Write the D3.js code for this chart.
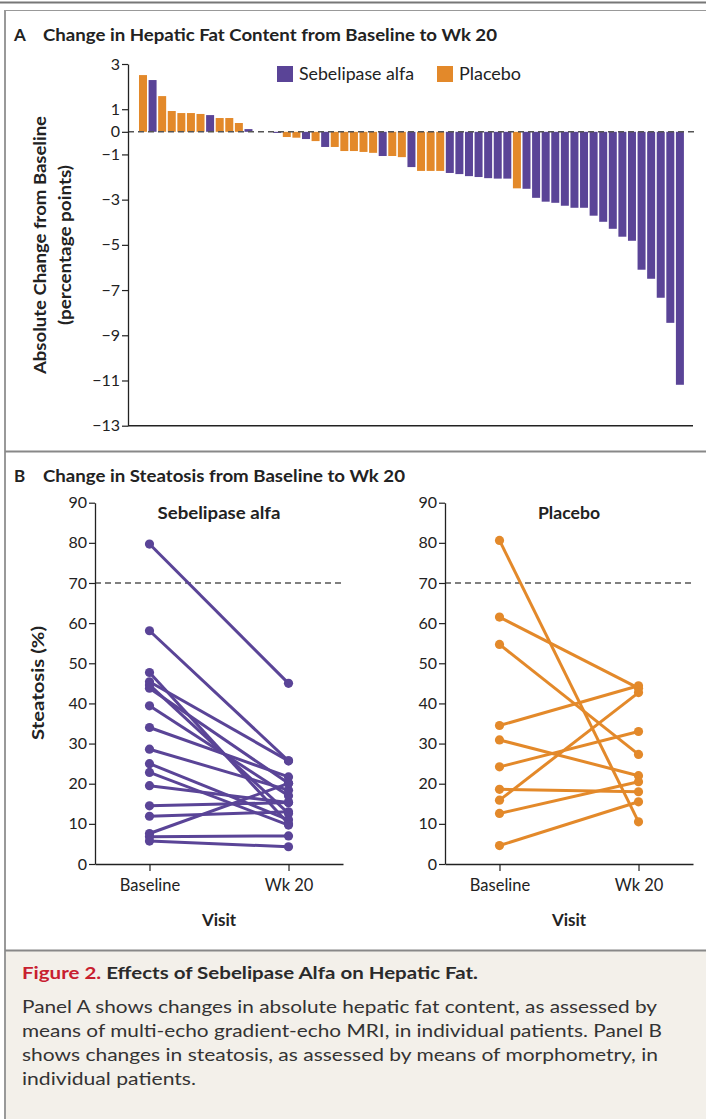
<!DOCTYPE html>
<html><head><meta charset="utf-8">
<script src="https://cdnjs.cloudflare.com/ajax/libs/d3/7.8.5/d3.min.js"></script>
<style>
body{margin:0;background:#fff;}
svg text{font-family:Lato,"Open Sans",sans-serif;fill:#222;}
</style></head>
<body>
<svg id="chart" width="706" height="1119"></svg>
<script>
// ---------- DATA ----------
// Panel A: absolute change in hepatic fat content (percentage points), per patient, sorted
const hfcValues = [2.51,2.29,1.58,0.92,0.83,0.83,0.79,0.74,0.61,0.61,0.39,0.12,0,0,-0.05,
  -0.23,-0.26,-0.32,-0.41,-0.67,-0.67,-0.85,-0.85,-0.89,-0.93,-1.07,-1.07,-1.12,-1.56,-1.73,-1.73,-1.73,
  -1.82,-1.87,-1.96,-2.00,-2.05,-2.07,-2.07,-2.50,-2.52,-2.92,-3.09,-3.14,-3.27,-3.36,-3.36,-3.71,-3.98,
  -4.29,-4.64,-4.82,-6.10,-6.50,-7.34,-8.45,-11.19];
const hfcGroups = ["P","S","P","P","P","P","P","S","P","P","P","S","P","S","S",
  "P","P","S","P","S","P","P","P","P","P","S","P","P","S","P","P","P",
  "S","S","S","S","S","S","S","P","S","S","S","S","S","S","S","S","S",
  "S","S","S","S","S","S","S","S"];
const aTicks = [3,1,0,-1,-3,-5,-7,-9,-11,-13];
const legendLabels = ["Sebelipase alfa","Placebo"];

// Panel B: steatosis (%) at baseline and week 20
const visits = ["Baseline","Wk 20"];
const sebBaseline = [79.7,58.1,47.7,45.4,44.6,43.8,39.4,34.0,28.6,25.0,22.8,19.5,14.5,11.9,7.6,6.8,5.7];
const sebWk20     = [45.0,25.7,10.0,25.7,12.6,20.1,17.0,21.7,18.4,11.0,9.7,15.3,15.3,13.0,20.1,7.0,4.3];
const plaBaseline = [80.6,61.5,54.7,34.5,30.9,24.2,18.6,15.9,12.6,4.6];
const plaWk20     = [10.5,43.8,27.3,44.4,22.0,33.0,18.0,42.7,20.5,15.5];
const bTicks = [0,10,20,30,40,50,60,70,80,90];
const thresholdB = 70;

// ---------- STYLE ----------
const PURPLE = "#5a4497", ORANGE = "#e3892a";
const colorOf = g => g === "S" ? PURPLE : ORANGE;
const minus = d => d < 0 ? "\u2212" + Math.abs(d) : String(d);

const svg = d3.select("#chart");

// ---------- FRAME ----------
svg.append("rect").attr("x",5).attr("y",951).attr("width",701).attr("height",168).attr("fill","#f3f0ea");
svg.append("line").attr("x1",0).attr("x2",706).attr("y1",2.5).attr("y2",2.5).attr("stroke","#777").attr("stroke-width",2);
svg.append("line").attr("x1",5).attr("x2",706).attr("y1",10.5).attr("y2",10.5).attr("stroke","#999").attr("stroke-width",1.2);
svg.append("line").attr("x1",5).attr("x2",5).attr("y1",10).attr("y2",1119).attr("stroke","#999").attr("stroke-width",2);
svg.append("line").attr("x1",5).attr("x2",706).attr("y1",451.5).attr("y2",451.5).attr("stroke","#888").attr("stroke-width",2);
svg.append("line").attr("x1",5).attr("x2",706).attr("y1",950.5).attr("y2",950.5).attr("stroke","#888").attr("stroke-width",2);

// ---------- PANEL A ----------
const tA = svg.append("text").attr("x",14).attr("y",41).style("font-size","17px").style("font-weight","bold");
tA.append("tspan").text("A");
tA.append("tspan").attr("x",43).attr("textLength",454).attr("lengthAdjust","spacingAndGlyphs")
  .text("Change in Hepatic Fat Content from Baseline to Wk 20");

const yA = d3.scaleLinear().domain([-13,3]).range([425.7,64]);
const xA = d3.scaleBand().domain(d3.range(hfcValues.length)).range([134.2,688.7]).paddingInner(0.166).paddingOuter(0.5);

svg.append("g").selectAll("rect").data(hfcValues).join("rect")
  .attr("x",(d,i)=>xA(i)).attr("width",xA.bandwidth())
  .attr("y",d=>yA(Math.max(0,d))).attr("height",d=>Math.abs(yA(d)-yA(0)))
  .attr("fill",(d,i)=>colorOf(hfcGroups[i]));

svg.append("line").attr("x1",128).attr("x2",695).attr("y1",yA(0)).attr("y2",yA(0))
  .attr("stroke","#555").attr("stroke-width",1.6).attr("stroke-dasharray","6,4");

const axA = svg.append("g").attr("transform","translate(128,0)")
  .call(d3.axisLeft(yA).tickValues(aTicks).tickSize(6).tickSizeOuter(0).tickFormat(minus));
axA.select(".domain").attr("stroke","#222").attr("stroke-width",1.3);
axA.selectAll(".tick line").attr("stroke","#222").attr("stroke-width",1.2);
axA.selectAll(".tick text").style("font-size","16px").attr("x",-8).attr("fill","#222");
svg.append("line").attr("x1",128).attr("x2",693).attr("y1",425.7).attr("y2",425.7).attr("stroke","#222").attr("stroke-width",1.5);

const yl = svg.append("text").attr("transform","translate(46,245) rotate(-90)").attr("text-anchor","middle")
  .style("font-size","17.5px").style("font-weight","bold");
yl.append("tspan").attr("x",0).attr("dy",0).attr("textLength",258).attr("lengthAdjust","spacingAndGlyphs").text("Absolute Change from Baseline");
yl.append("tspan").attr("x",0).attr("dy",25).attr("textLength",160).attr("lengthAdjust","spacingAndGlyphs").text("(percentage points)");

const lg = svg.append("g");
legendLabels.forEach((lab,i)=>{
  const x0 = i===0 ? 277 : 437;
  lg.append("rect").attr("x",x0).attr("y",66).attr("width",16).attr("height",16).attr("fill", i===0?PURPLE:ORANGE);
  lg.append("text").attr("x",x0+22).attr("y",80).style("font-size","16.5px")
    .attr("textLength", i===0?115:62).attr("lengthAdjust","spacingAndGlyphs").text(lab);
});

// ---------- PANEL B ----------
const tB = svg.append("text").attr("x",14).attr("y",482).style("font-size","17px").style("font-weight","bold");
tB.append("tspan").text("B");
tB.append("tspan").attr("x",43).attr("textLength",362).attr("lengthAdjust","spacingAndGlyphs")
  .text("Change in Steatosis from Baseline to Wk 20");

const yB = d3.scaleLinear().domain([0,90]).range([864,502.7]);

function panelB(x0, x1, base, wk, color, title, titleW, showYLabel){
  const xB = d3.scalePoint().domain(visits).range([x0,x1]).padding(0.392);
  const g = svg.append("g");
  g.append("line").attr("x1",x0).attr("x2",x1).attr("y1",yB(thresholdB)).attr("y2",yB(thresholdB))
    .attr("stroke","#555").attr("stroke-width",1.5).attr("stroke-dasharray","6,4");
  const ay = g.append("g").attr("transform",`translate(${x0},0)`)
    .call(d3.axisLeft(yB).tickValues(bTicks).tickSize(6).tickSizeOuter(0));
  ay.select(".domain").attr("stroke","#222").attr("stroke-width",1.3);
  ay.selectAll(".tick line").attr("stroke","#222").attr("stroke-width",1.2);
  ay.selectAll(".tick text").style("font-size","16px").attr("x",-8).attr("fill","#222");
  const ax = g.append("g").attr("transform",`translate(0,${yB(0)})`)
    .call(d3.axisBottom(xB).tickSize(7).tickSizeOuter(0));
  ax.select(".domain").attr("stroke","#222").attr("stroke-width",1.5);
  ax.selectAll(".tick line").attr("stroke","#222").attr("stroke-width",1.2);
  ax.selectAll(".tick text").style("font-size","16.5px").attr("y",15).attr("fill","#222");
  const pairs = base.map((b,i)=>({b, w: wk[i]}));
  g.append("g").selectAll("line").data(pairs).join("line")
    .attr("x1",xB(visits[0])).attr("x2",xB(visits[1]))
    .attr("y1",d=>yB(d.b)).attr("y2",d=>yB(d.w))
    .attr("stroke",color).attr("stroke-width",3);
  const pts = pairs.flatMap(d=>[{v:visits[0],y:d.b},{v:visits[1],y:d.w}]);
  g.append("g").selectAll("circle").data(pts).join("circle")
    .attr("cx",d=>xB(d.v)).attr("cy",d=>yB(d.y)).attr("r",4.6).attr("fill",color);
  const mid = (xB(visits[0])+xB(visits[1]))/2;
  g.append("text").attr("x",mid).attr("y",519).attr("text-anchor","middle")
    .style("font-size","17.5px").style("font-weight","bold")
    .attr("textLength",titleW).attr("lengthAdjust","spacingAndGlyphs").text(title);
  g.append("text").attr("x",mid).attr("y",926).attr("text-anchor","middle")
    .style("font-size","17px").style("font-weight","bold").text("Visit");
  if(showYLabel){
    g.append("text").attr("transform",`translate(44,683) rotate(-90)`).attr("text-anchor","middle")
      .style("font-size","17.5px").style("font-weight","bold")
      .attr("textLength",114).attr("lengthAdjust","spacingAndGlyphs").text("Steatosis (%)");
  }
}
panelB(95, 343, sebBaseline, sebWk20, PURPLE, "Sebelipase alfa", 123, true);
panelB(445, 693, plaBaseline, plaWk20, ORANGE, "Placebo", 62, false);

// ---------- CAPTION ----------
const cap = svg.append("text").attr("x",22).attr("y",979).style("font-size","17px").style("font-weight","bold")
  .attr("textLength",456).attr("lengthAdjust","spacingAndGlyphs");
cap.append("tspan").style("fill","#c8202f").text("Figure 2. ");
cap.append("tspan").style("fill","#2a2a2a").text("Effects of Sebelipase Alfa on Hepatic Fat.");
const body = [
  ["Panel A shows changes in absolute hepatic fat content, as assessed by",635],
  ["means of multi-echo gradient-echo MRI, in individual patients. Panel B",640],
  ["shows changes in steatosis, as assessed by means of morphometry, in",636],
  ["individual patients.",174]
];
body.forEach(([t,w],i)=>{
  svg.append("text").attr("x",22).attr("y",1013+i*24).style("font-size","17.5px").style("fill","#333")
    .attr("textLength",w).attr("lengthAdjust","spacingAndGlyphs").text(t);
});
</script>
</body></html>
